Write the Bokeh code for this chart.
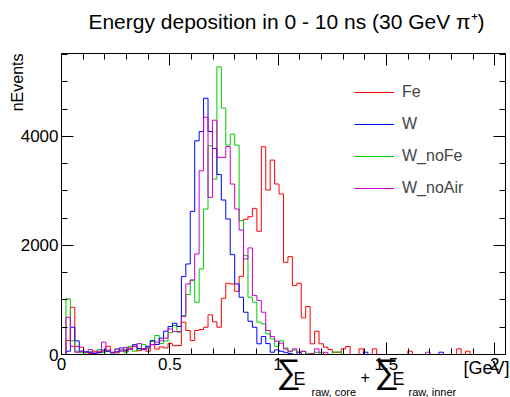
import numpy as np
from bokeh.plotting import figure
from bokeh.models import Range1d, LinearAxis, FixedTicker, Label, Legend, LegendItem
from bokeh.embed import file_html
from bokeh.resources import INLINE

# Histogram binning (GeV)
x_low, x_high, n_bins = 0.0, 2.05, 100

# Bin contents, energy deposited in 0 - 10 ns
fe = [0, 256, 866, 150, 134, 40, 20, 60, 30, 50,
      150, 40, 30, 80, 60, 120, 150, 70, 110, 60,
      180, 100, 140, 120, 200, 160, 165, 592, 440, 256,
      440, 458, 500, 727, 600, 500, 1031, 1306, 1294, 1160,
      1434, 2480, 2527, 2680, 2260, 3810, 3016, 3565, 3126, 2943,
      1691, 1795, 1264, 1306, 672, 879, 196, 427, 196, 134,
      90, 40, 40, 104, 146, 0, 0, 104, 0, 0,
      104, 0, 0, 0, 0, 0, 0, 0, 61, 0,
      0, 0, 0, 0, 0, 0, 0, 0, 0, 104,
      0, 61, 0, 0, 0, 0, 0, 0, 0, 0]

w = [0, 60, 500, 250, 60, 50, 40, 20, 40, 80,
     60, 30, 50, 120, 80, 100, 180, 110, 90, 150,
     256, 183, 300, 427, 513, 573, 513, 1428, 1660, 2625,
     3919, 4090, 4700, 4090, 3779, 3300, 2833, 2485, 1831, 1294,
     1050, 775, 610, 500, 196, 330, 200, 42, 85, 60,
     40, 20, 0, 40, 0, 0, 0, 0, 0, 0,
     0, 0, 0, 0, 0, 0, 0, 0, 42, 0,
     0, 0, 0, 0, 0, 0, 0, 0, 0, 0,
     0, 0, 0, 0, 0, 42, 0, 0, 0, 0,
     0, 0, 0, 0, 0, 0, 0, 0, 0, 0]

w_nofe = [0, 1020, 250, 60, 40, 30, 50, 20, 90, 40,
          60, 30, 100, 80, 40, 150, 60, 100, 180, 120,
          240, 348, 200, 250, 400, 531, 409, 714, 1100, 1355,
          958, 1569, 2668, 3828, 3217, 5275, 4518, 3840, 4040, 3840,
          2454, 1813, 1050, 958, 592, 562, 379, 287, 150, 250,
          120, 60, 80, 40, 60, 20, 0, 40, 40, 0,
          0, 46, 46, 0, 0, 0, 0, 0, 0, 0,
          0, 0, 0, 0, 0, 0, 0, 0, 0, 0,
          0, 0, 0, 0, 0, 0, 0, 0, 0, 0,
          0, 0, 0, 0, 0, 0, 0, 0, 0, 0]

w_noair = [0, 683, 150, 40, 60, 40, 90, 30, 60, 226,
           80, 40, 100, 60, 130, 90, 150, 200, 100, 120,
           180, 226, 250, 300, 470, 420, 420, 696, 1294, 1368,
           1844, 3370, 4350, 2881, 4297, 3614, 3614, 3815, 3126, 2668,
           2283, 1752, 1954, 1080, 989, 775, 440, 330, 244, 207,
           100, 60, 104, 40, 60, 0, 20, 104, 0, 40,
           0, 0, 0, 0, 0, 0, 0, 0, 0, 0,
           0, 0, 0, 0, 0, 0, 0, 0, 0, 0,
           0, 0, 42, 0, 0, 0, 0, 0, 0, 0,
           0, 0, 0, 0, 0, 0, 0, 0]

series = [("Fe", fe, "#ff0000"),
          ("W", w, "#0000ff"),
          ("W_noFe", w_nofe, "#00cc00"),
          ("W_noAir", w_noair, "#cc00cc")]
draw_order = ["Fe", "W_noFe", "W", "W_noAir"]

x_ticks = [0, 0.5, 1, 1.5, 2]
x_minor = [round(0.1 * i, 1) for i in range(21) if i % 5]
y_ticks = [0, 2000, 4000]
y_minor = [500 * i for i in range(12) if i % 4]

Y_MAX = 5520
FONT = "Liberation Sans"
W_PX, H_PX = 510, 397

# Pad frame: the histogram box spans pixels 61..505 (x) and 53..354 (y);
# the canvas around it is covered by extending the ranges, so that the
# title and axis titles can be drawn as labels inside the frame.
BOX_L, BOX_R, BOX_T, BOX_B = 61, 505, 53, 354
sx = (x_high - x_low) / (BOX_R - BOX_L)
sy = Y_MAX / (BOX_B - BOX_T)
x_range = Range1d(x_low - BOX_L * sx, x_high + (W_PX - BOX_R) * sx)
y_range = Range1d(-(H_PX - BOX_B) * sy, Y_MAX + BOX_T * sy)

p = figure(width=W_PX, height=H_PX, output_backend="svg", toolbar_location=None,
           x_range=x_range, y_range=y_range, x_axis_type=None, y_axis_type=None,
           min_border=0)
p.grid.visible = False
p.outline_line_color = None
p.background_fill_color = "white"
p.border_fill_color = "white"


def style_ticks(ax, major_len, minor_len):
    ax.axis_line_color = "black"
    ax.major_tick_in = major_len
    ax.major_tick_out = 0
    ax.minor_tick_in = minor_len
    ax.minor_tick_out = 0
    ax.major_tick_line_color = "black"
    ax.minor_tick_line_color = "black"
    return ax


def labelled_axis(ticks, minor, bounds, loc):
    ax = LinearAxis(ticker=FixedTicker(ticks=ticks, minor_ticks=minor),
                    bounds=bounds, fixed_location=loc)
    style_ticks(ax, 12, 6)
    ax.major_label_text_font = FONT
    ax.major_label_text_font_size = "17px"
    ax.major_label_text_color = "black"
    ax.major_label_standoff = 3
    return ax


def mirror_axis(positions, bounds, loc, tick_len):
    # unlabelled opposite-side axis: ticks only, no major labels
    ax = LinearAxis(ticker=FixedTicker(ticks=[], minor_ticks=positions),
                    bounds=bounds, fixed_location=loc)
    return style_ticks(ax, 0, tick_len)


bottom = labelled_axis(x_ticks, x_minor, (x_low, x_high), 0)
bottom.major_label_overrides = {0: "0", 0.5: "0.5", 1: "1", 1.5: "1.5", 2: "2"}
p.add_layout(bottom, "below")
left = labelled_axis(y_ticks, y_minor, (0, Y_MAX), x_low)
left.major_label_overrides = {0: "0", 2000: "2000", 4000: "4000"}
p.add_layout(left, "left")
p.add_layout(mirror_axis(x_minor, (x_low, x_high), Y_MAX, 6), "above")
p.add_layout(mirror_axis(x_ticks, (x_low, x_high), Y_MAX, 12), "above")
p.add_layout(mirror_axis(y_minor, (0, Y_MAX), x_high, 6), "right")
p.add_layout(mirror_axis(y_ticks, (0, Y_MAX), x_high, 12), "right")

edges = np.linspace(x_low, x_high, n_bins + 1)
renderers = {}
for name in draw_order:
    _, counts, color = next(s for s in series if s[0] == name)
    counts = np.asarray(counts, dtype=float)
    xs = edges[:len(counts) + 1]
    ys = np.append(counts, counts[-1])
    renderers[name] = p.step(x=xs, y=ys, mode="after", line_color=color, line_width=1)

legend = Legend(items=[LegendItem(label=n, renderers=[renderers[n]]) for n, _, _ in series],
                location=(354, H_PX - 198), border_line_alpha=0, background_fill_alpha=0,
                glyph_width=40, glyph_height=20, label_height=20, spacing=12,
                padding=0, margin=0, label_standoff=8,
                label_text_font=FONT, label_text_font_size="16px")
p.add_layout(legend)


def put(text, px, py, size, align="left", baseline="middle", angle=0.0):
    # px, py: canvas pixels from the top-left corner
    p.add_layout(Label(x=px, y=H_PX - py, x_units="screen", y_units="screen",
                       text=text, text_font=FONT, text_font_size=size,
                       text_align=align, text_baseline=baseline, angle=angle,
                       text_color="black"))


put("Energy deposition in 0 - 10 ns (30 GeV \u03c0\u207a)", 286, 21, "21px", align="center")
put("nEvents", 17, 53, "16px", align="right", angle=np.pi / 2)
put("\u2211", 276, 370, "34px")
put("E", 293, 378, "18px")
put("raw, core", 311, 391, "11px")
put("+", 360, 376, "16px")
put("\u2211", 374, 370, "34px")
put("E", 392, 378, "18px")
put("raw, inner", 408, 391, "11px")
put("[GeV]", 463, 367, "18px")

open("out.html", "w").write(file_html(p, INLINE))
